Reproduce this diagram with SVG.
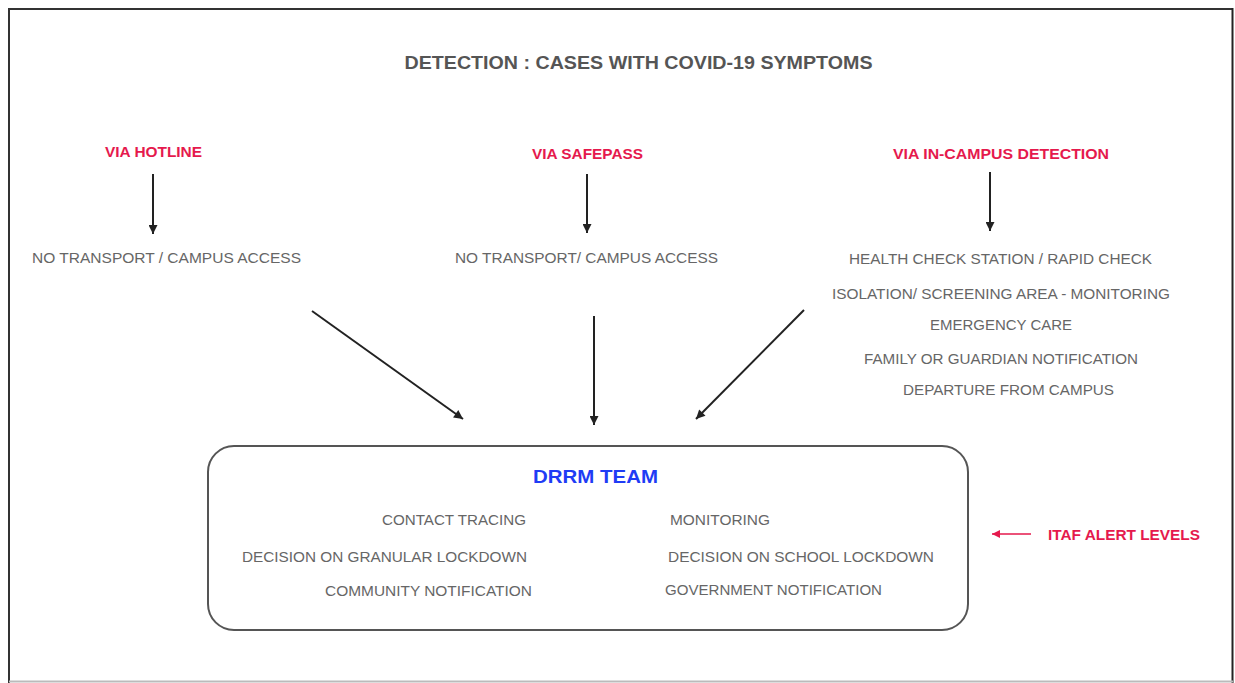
<svg xmlns="http://www.w3.org/2000/svg" width="1235" height="683" viewBox="0 0 1235 683">
  <defs>
    <style>
      .title { font-family: "Liberation Sans", Arial, sans-serif; font-weight: bold; font-size: 18px; fill: #555; }
      .red { font-family: "Liberation Sans", Arial, sans-serif; font-weight: bold; font-size: 15px; fill: #e5194d; }
      .gray { font-family: "Liberation Sans", Arial, sans-serif; font-size: 15px; fill: #666; }
      .blue { font-family: "Liberation Sans", Arial, sans-serif; font-weight: bold; font-size: 19px; fill: #1f3cf5; }
      .conn { stroke: #222; stroke-width: 2; fill: none; }
    </style>
    <marker id="ah" viewBox="0 0 10 10" refX="10" refY="5" markerWidth="10" markerHeight="9" markerUnits="userSpaceOnUse" orient="auto">
      <path d="M0,0 L10,5 L0,10 z" fill="#222"/>
    </marker>
    <marker id="ahr" viewBox="0 0 10 10" refX="10" refY="5" markerWidth="9" markerHeight="8" markerUnits="userSpaceOnUse" orient="auto">
      <path d="M0,0 L10,5 L0,10 z" fill="#e5194d"/>
    </marker>
  </defs>
  <rect x="0" y="0" width="1235" height="683" fill="#fff"/>
  <g id="frame">
    <line x1="9" y1="9" x2="1233" y2="9" stroke="#333" stroke-width="2"/>
    <line x1="9" y1="8" x2="9" y2="683" stroke="#333" stroke-width="2"/>
    <line x1="1232.5" y1="8" x2="1232.5" y2="683" stroke="#222" stroke-width="2"/>
    <line x1="9" y1="681.5" x2="1233" y2="681.5" stroke="#bbb" stroke-width="2"/>
  </g>
  <g id="title">
    <text class="title" x="638.5" y="69" text-anchor="middle" textLength="468" lengthAdjust="spacingAndGlyphs">DETECTION : CASES WITH COVID-19 SYMPTOMS</text>
  </g>
  <g id="hotline">
    <text class="red" x="153.5" y="156.5" text-anchor="middle" textLength="97" lengthAdjust="spacingAndGlyphs">VIA HOTLINE</text>
  </g>
  <g id="hotline-result">
    <text class="gray" x="166.5" y="262.5" text-anchor="middle" textLength="269" lengthAdjust="spacingAndGlyphs">NO TRANSPORT / CAMPUS ACCESS</text>
  </g>
  <g id="safepass">
    <text class="red" x="587.5" y="158.5" text-anchor="middle" textLength="111" lengthAdjust="spacingAndGlyphs">VIA SAFEPASS</text>
  </g>
  <g id="safepass-result">
    <text class="gray" x="586.5" y="262.5" text-anchor="middle" textLength="263" lengthAdjust="spacingAndGlyphs">NO TRANSPORT/ CAMPUS ACCESS</text>
  </g>
  <g id="incampus">
    <text class="red" x="1001" y="158.5" text-anchor="middle" textLength="216" lengthAdjust="spacingAndGlyphs">VIA IN-CAMPUS DETECTION</text>
  </g>
  <g id="incampus-steps">
    <text class="gray" x="1000.5" y="263.5" text-anchor="middle" textLength="303" lengthAdjust="spacingAndGlyphs">HEALTH CHECK STATION / RAPID CHECK</text>
    <text class="gray" x="1001" y="298.5" text-anchor="middle" textLength="338" lengthAdjust="spacingAndGlyphs">ISOLATION/ SCREENING AREA - MONITORING</text>
    <text class="gray" x="1001" y="329.5" text-anchor="middle" textLength="142" lengthAdjust="spacingAndGlyphs">EMERGENCY CARE</text>
    <text class="gray" x="1001" y="363.5" text-anchor="middle" textLength="274" lengthAdjust="spacingAndGlyphs">FAMILY OR GUARDIAN NOTIFICATION</text>
    <text class="gray" x="1008.5" y="394.5" text-anchor="middle" textLength="211" lengthAdjust="spacingAndGlyphs">DEPARTURE FROM CAMPUS</text>
  </g>
  <g id="drrm-team">
    <rect x="208" y="446" width="760" height="184" rx="26" ry="26" fill="#fff" stroke="#555" stroke-width="2"/>
    <text class="blue" x="533" y="483" textLength="125" lengthAdjust="spacingAndGlyphs">DRRM TEAM</text>
    <text class="gray" x="382" y="524.5" textLength="144" lengthAdjust="spacingAndGlyphs">CONTACT TRACING</text>
    <text class="gray" x="242" y="561.5" textLength="285" lengthAdjust="spacingAndGlyphs">DECISION ON GRANULAR LOCKDOWN</text>
    <text class="gray" x="325" y="595.5" textLength="207" lengthAdjust="spacingAndGlyphs">COMMUNITY NOTIFICATION</text>
    <text class="gray" x="670" y="524.5" textLength="100" lengthAdjust="spacingAndGlyphs">MONITORING</text>
    <text class="gray" x="668" y="561.5" textLength="266" lengthAdjust="spacingAndGlyphs">DECISION ON SCHOOL LOCKDOWN</text>
    <text class="gray" x="665" y="594.5" textLength="217" lengthAdjust="spacingAndGlyphs">GOVERNMENT NOTIFICATION</text>
  </g>
  <g id="itaf">
    <text class="red" x="1048" y="539.5" textLength="152" lengthAdjust="spacingAndGlyphs">ITAF ALERT LEVELS</text>
  </g>
  <g id="connectors">
    <line class="conn" x1="153" y1="174" x2="153" y2="234" marker-end="url(#ah)"/>
    <line class="conn" x1="587" y1="174" x2="587" y2="233" marker-end="url(#ah)"/>
    <line class="conn" x1="990" y1="172" x2="990" y2="231" marker-end="url(#ah)"/>
    <line class="conn" x1="312" y1="311" x2="463" y2="419" marker-end="url(#ah)"/>
    <line class="conn" x1="594" y1="316" x2="594" y2="425" marker-end="url(#ah)"/>
    <line class="conn" x1="804" y1="310" x2="696" y2="419" marker-end="url(#ah)"/>
    <line x1="1031" y1="534" x2="992" y2="534" stroke="#e5194d" stroke-width="1.6" marker-end="url(#ahr)"/>
  </g>
</svg>
